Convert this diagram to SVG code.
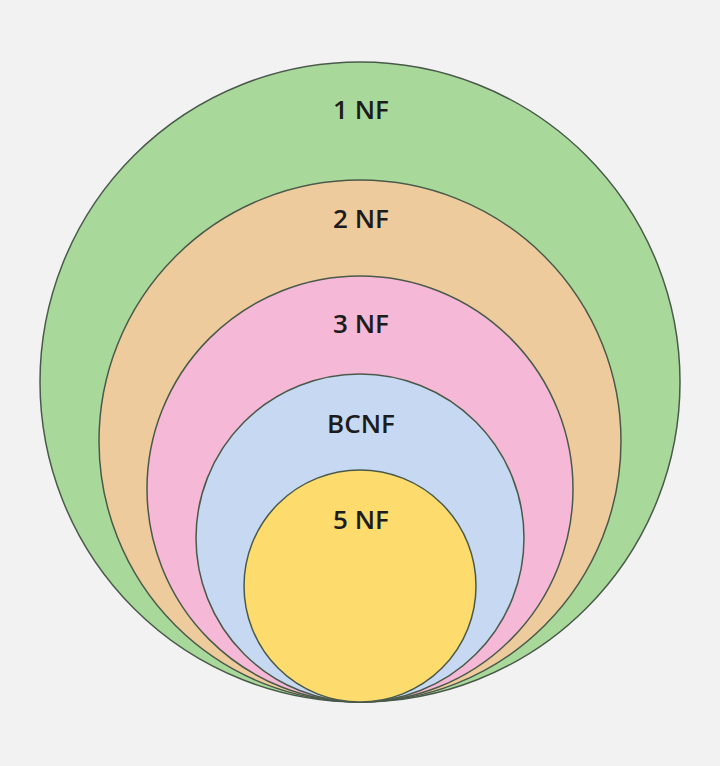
<svg xmlns="http://www.w3.org/2000/svg" width="720" height="766" viewBox="0 0 720 766">
<style>
.ring{stroke:#4a5a4a;stroke-width:1.5}
.lbl{font-family:"Open Sans","Liberation Sans",sans-serif;font-size:26px;font-weight:600;fill:#1c1c1c;text-anchor:middle}
</style>
<rect width="720" height="766" fill="#f2f2f2"/>
<g id="nf1"><circle class="ring" cx="360" cy="382" r="320" fill="#a9d89b"/><text class="lbl" x="361" y="119">1 NF</text></g>
<g id="nf2"><circle class="ring" cx="360" cy="441" r="261" fill="#eecb9d"/><text class="lbl" x="361" y="228">2 NF</text></g>
<g id="nf3"><circle class="ring" cx="360" cy="489" r="213" fill="#f5b8d7"/><text class="lbl" x="361" y="333">3 NF</text></g>
<g id="bcnf"><circle class="ring" cx="360" cy="538" r="164" fill="#c7d9f2"/><text class="lbl" x="361" y="433">BCNF</text></g>
<g id="nf5"><circle class="ring" cx="360" cy="586" r="116" fill="#fddb6d"/><text class="lbl" x="361" y="529">5 NF</text></g>
<g id="connectors"/>
</svg>
